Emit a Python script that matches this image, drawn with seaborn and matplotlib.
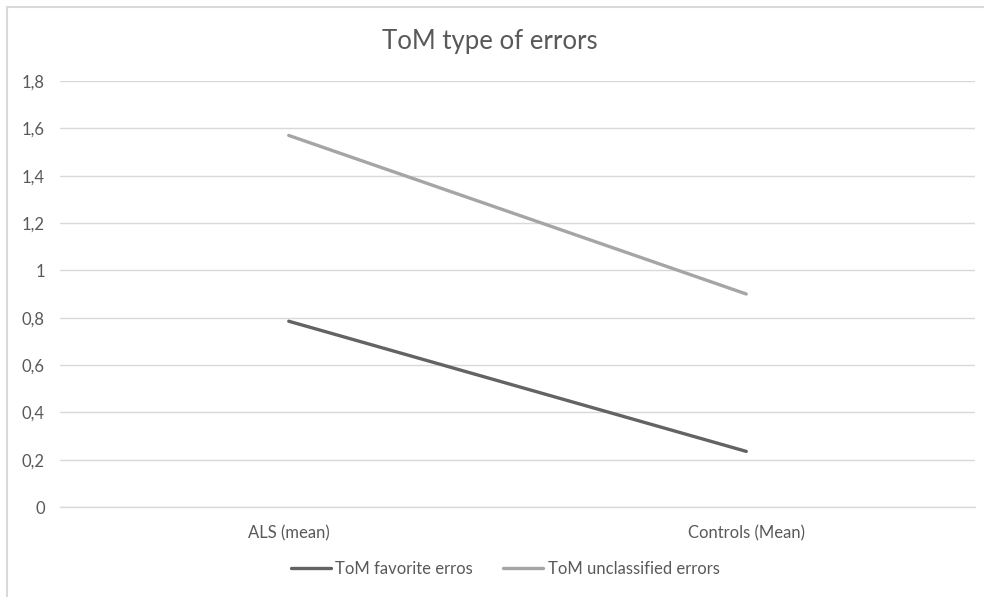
import matplotlib
matplotlib.use("Agg")
import matplotlib.pyplot as plt
import seaborn as sns
import pandas as pd
from matplotlib.ticker import FuncFormatter
from matplotlib.patches import Rectangle

categories = ["ALS (mean)", "Controls (Mean)"]
series_names = ["ToM favorite erros", "ToM unclassified errors"]
favorite = [0.785, 0.235]
unclassified = [1.57, 0.90]
yticks = [0, 0.2, 0.4, 0.6, 0.8, 1.0, 1.2, 1.4, 1.6, 1.8]

df = pd.DataFrame({
    "cat": categories * 2,
    "val": favorite + unclassified,
    "series": [series_names[0]] * 2 + [series_names[1]] * 2,
})

sns.set_style("white")
plt.rcParams["font.family"] = ["Lato", "DejaVu Sans"]
text_color = "#595959"

fig = plt.figure(figsize=(9.84, 5.97), dpi=100)
ax = fig.add_axes([60/984, 1-507/597, (975-60)/984, (507-81)/597])

sns.lineplot(data=df, x="cat", y="val", hue="series", ax=ax,
             palette=["#636363", "#a5a5a5"], linewidth=2.4, sort=False,
             legend=True)
for l in ax.get_lines():
    l.set_solid_capstyle("round")

ax.set_xlim(-0.5, 1.5)
ax.set_ylim(0, 1.8)
ax.set_yticks(yticks)
ax.yaxis.set_major_formatter(FuncFormatter(lambda v, p: ("%g" % round(v, 2)).replace(".", ",")))
ax.grid(axis="y", color="#d9d9d9", linewidth=1)
ax.set_axisbelow(True)
for s in ["top", "right", "left"]:
    ax.spines[s].set_visible(False)
ax.spines["bottom"].set_color("#d9d9d9")
ax.spines["bottom"].set_linewidth(1)
ax.tick_params(axis="both", length=0, labelsize=12, colors=text_color)
ax.tick_params(axis="y", pad=11)
ax.tick_params(axis="x", pad=13)
ax.set_xlabel("")
ax.set_ylabel("")

fig.text(490/984, 1-42/597, "ToM type of errors", ha="center", va="center",
         fontsize=18.5, color=text_color)

handles, labels = ax.get_legend_handles_labels()
ax.legend(handles, labels, loc="center", bbox_to_anchor=(505/984, 1-569/597),
          bbox_transform=fig.transFigure, ncol=2, frameon=False, fontsize=12,
          labelcolor=text_color, handlelength=2.4, handletextpad=0.25, columnspacing=1.85)

fig.patches.append(Rectangle((7/984, -0.1), 1.0, 1-7/597+0.1, transform=fig.transFigure,
                             fill=False, edgecolor="#d9d9d9", linewidth=1.5))

fig.savefig("out.png", dpi=100)
